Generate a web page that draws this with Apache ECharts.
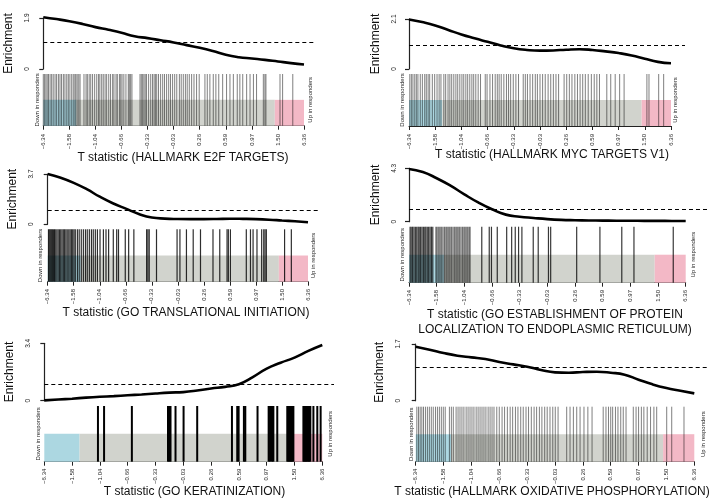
<!DOCTYPE html>
<html>
<head>
<meta charset="utf-8">
<script src="https://cdn.jsdelivr.net/npm/echarts@6/dist/echarts.min.js"></script>
<style>
  html, body { margin: 0; padding: 0; background: #fff; }
  #main { width: 714px; height: 503px; }
</style>
</head>
<body>
<div id="main"></div>
<script>
// tick labels of every barcode axis (T statistic at each decile of the ranking)
const tLabels = ['\u22126.34', '\u22121.58', '\u22121.04', '\u22120.66', '\u22120.33', '\u22120.03', '0.26', '0.59', '0.97', '1.50', '6.36'];

// positions (percent of ranked genes) where the enrichment curves are sampled
const curveX = [0, 5, 10, 15, 20, 25, 30, 35, 40, 45, 50, 55, 60, 65, 70, 75, 80, 85, 90, 95, 100];

// enrichment curves
const e2fCurve = [1.93, 1.86, 1.78, 1.68, 1.56, 1.46, 1.35, 1.22, 1.15, 1.07, 0.99, 0.89, 0.79, 0.67, 0.53, 0.44, 0.39, 0.34, 0.28, 0.22, 0.17];
const mycCurve = [2.08, 1.97, 1.83, 1.64, 1.45, 1.29, 1.14, 0.99, 0.87, 0.80, 0.77, 0.78, 0.81, 0.83, 0.80, 0.74, 0.67, 0.57, 0.43, 0.30, 0.24];
const translCurve = [3.70, 3.42, 3.05, 2.58, 2.03, 1.55, 1.15, 0.76, 0.50, 0.42, 0.39, 0.38, 0.38, 0.39, 0.41, 0.40, 0.38, 0.34, 0.28, 0.22, 0.15];
const erCurve = [4.25, 4.00, 3.50, 2.90, 2.20, 1.55, 1.00, 0.57, 0.40, 0.30, 0.21, 0.15, 0.12, 0.10, 0.09, 0.08, 0.08, 0.07, 0.07, 0.06, 0.06];
const keraCurve = [0.02, 0.07, 0.12, 0.18, 0.23, 0.27, 0.32, 0.37, 0.43, 0.48, 0.51, 0.60, 0.72, 0.82, 0.98, 1.40, 1.90, 2.25, 2.55, 2.95, 3.30];
const oxphosCurve = [1.62, 1.53, 1.43, 1.35, 1.30, 1.25, 1.16, 1.09, 1.02, 0.92, 0.85, 0.84, 0.86, 0.87, 0.84, 0.78, 0.63, 0.49, 0.38, 0.30, 0.22];

// y axis maximum of each enrichment plot
const yMax = [1.9, 2.1, 3.7, 4.3, 3.4, 1.7];

// gene set members: rank position in percent
const e2fGenes = [0, 0.5, 1.0, 1.5, 2.0, 2.6, 3.2, 3.8, 4.5, 5.1, 5.8, 6.4, 7.0, 7.7, 8.3, 9.0, 9.6, 10.2, 10.9, 11.5, 12.1, 12.5, 13.0, 13.6, 14.1, 15.6, 16.4, 16.9, 17.6, 18.2, 18.9, 19.7, 20.5, 21.2, 21.7, 22.4, 23.0, 23.7, 24.3, 25.1, 25.8, 26.6, 27.1, 27.9, 28.4, 29.2, 29.7, 30.2, 30.9, 31.7, 32.6, 33.0, 33.5, 34.0, 37.1, 37.6, 38.1, 38.6, 39.1, 39.6, 40.4, 41.2, 41.9, 42.5, 43.0, 43.5, 44.2, 45.0, 45.8, 46.5, 47.3, 48.1, 48.8, 49.6, 50.4, 51.2, 52.2, 52.9, 53.7, 54.5, 55.2, 56.0, 56.9, 57.8, 58.8, 59.8, 62.0, 62.9, 63.9, 65.2, 66.2, 67.3, 68.8, 70.3, 71.6, 72.9, 74.4, 75.4, 76.5, 78.0, 79.3, 80.6, 81.8, 84.4, 85.0, 85.4, 90.8, 91.8, 95.7];
const mycGenes = [0.3, 0.9, 1.5, 2.2, 2.8, 3.4, 4.3, 5.1, 6.0, 6.6, 7.3, 7.9, 8.9, 9.8, 10.7, 11.5, 12.2, 13.3, 14.0, 14.9, 15.6, 16.3, 17.1, 17.9, 18.6, 19.4, 20.2, 20.9, 21.7, 22.4, 23.2, 24.0, 24.7, 25.5, 26.4, 27.3, 29.1, 29.8, 30.9, 31.9, 32.9, 33.7, 34.4, 35.2, 36.2, 37.2, 38.0, 38.8, 39.8, 40.8, 41.8, 43.6, 44.4, 45.2, 46.2, 47.2, 48.2, 49.0, 50.0, 51.0, 52.0, 53.1, 54.1, 55.1, 56.1, 57.1, 59.2, 60.2, 61.2, 62.2, 63.3, 64.3, 65.3, 66.3, 67.3, 68.4, 69.6, 70.7, 71.7, 72.7, 75.5, 77.0, 78.7, 80.4, 82.1, 90.8, 91.6, 95.3, 97.2];
const translGenes = [0.3, 0.6, 1.0, 1.4, 1.8, 2.2, 2.6, 2.9, 3.5, 4.0, 4.5, 5.0, 5.5, 6.0, 6.5, 7.0, 7.5, 8.1, 8.6, 9.1, 9.6, 10.1, 10.6, 11.4, 12.1, 12.9, 13.7, 14.5, 15.2, 16.0, 16.8, 17.5, 18.3, 19.1, 20.1, 21.4, 22.4, 23.4, 25.2, 26.5, 27.2, 29.8, 31.1, 33.1, 38.0, 38.5, 39.0, 41.8, 49.7, 50.8, 53.3, 55.9, 58.7, 63.5, 66.1, 68.9, 69.4, 70.2, 76.3, 77.9, 78.9, 80.4, 82.2, 83.0, 83.5, 84.0, 91.0, 93.6];
const erGenes = [0.4, 0.8, 1.3, 1.8, 2.3, 2.8, 3.3, 3.7, 4.2, 4.7, 5.2, 5.7, 6.1, 6.6, 7.1, 7.6, 8.1, 8.6, 9.8, 10.5, 11.2, 11.9, 12.7, 13.4, 14.1, 14.8, 15.5, 16.3, 17.0, 17.7, 18.4, 19.2, 19.9, 20.6, 21.3, 22.0, 26.3, 29.0, 29.8, 31.9, 35.3, 37.1, 38.4, 39.6, 40.8, 44.9, 46.7, 50.4, 51.2, 60.6, 69.0, 76.9, 81.3, 95.5];
const keraGenes = [19.3, 21.5, 31.5, 44.5, 45.0, 45.4, 47.2, 50.1, 55.0, 67.5, 69.4, 69.9, 71.8, 72.3, 76.7, 80.7, 81.2, 81.9, 82.4, 83.8, 87.4, 87.8, 88.1, 88.5, 88.8, 89.2, 89.6, 93.2, 93.5, 93.9, 94.2, 94.6, 95.0, 95.3, 95.7, 96.8, 98.2, 99.4];
const oxphosGenes = [0.4, 1.0, 1.6, 2.2, 2.8, 3.5, 4.2, 4.9, 5.6, 6.3, 7.1, 7.8, 8.5, 9.2, 9.9, 10.6, 12.1, 12.8, 13.5, 14.5, 15.2, 15.9, 16.6, 17.3, 18.1, 18.8, 19.5, 20.2, 20.9, 21.7, 22.4, 23.1, 23.8, 24.5, 25.2, 26.0, 26.7, 27.4, 28.1, 29.1, 30.0, 31.0, 31.9, 32.9, 33.9, 34.8, 35.8, 36.7, 37.7, 38.6, 39.6, 40.5, 41.5, 42.5, 43.4, 44.4, 45.3, 46.3, 47.2, 48.2, 49.2, 50.1, 51.1, 54.2, 55.4, 56.6, 57.8, 59.0, 60.4, 61.8, 63.3, 67.3, 68.3, 69.2, 70.0, 70.7, 71.7, 72.6, 73.6, 74.5, 75.5, 78.1, 79.1, 80.0, 81.0, 81.9, 83.1, 84.3, 85.5, 86.5, 90.1, 91.9, 96.3];

// down / neutral / up regions of the ranking (percent)
const bandStart = [0, 12.7, 88.8];
const bandEnd = [12.7, 88.8, 100];

const titles = [
    ['T statistic (HALLMARK E2F TARGETS)'],
    ['T statistic (HALLMARK MYC TARGETS V1)'],
    ['T statistic (GO TRANSLATIONAL INITIATION)'],
    ['T statistic (GO ESTABLISHMENT OF PROTEIN', 'LOCALIZATION TO ENDOPLASMIC RETICULUM)'],
    ['T statistic (GO KERATINIZATION)'],
    ['T statistic (HALLMARK OXIDATIVE PHOSPHORYLATION)']
];
const curves = [e2fCurve, mycCurve, translCurve, erCurve, keraCurve, oxphosCurve];
const genes = [e2fGenes, mycGenes, translGenes, erGenes, keraGenes, oxphosGenes];

// layout of each panel, in pixels
const layout = [
    { left: 43.3, right: 304, axisX: 33, enrTop: 18, enrBot: 69, dashEnd: 316, barTop: 74, barBot: 125.7, tickY: 131, titleX: 183, titleY: 158, downX: 37, upX: 310 },
    { left: 409, right: 671, axisX: 399.3, enrTop: 19, enrBot: 69, dashEnd: 685, barTop: 74, barBot: 126, tickY: 131, titleX: 552, titleY: 155, downX: 402, upX: 675 },
    { left: 47.7, right: 308, axisX: 36.7, enrTop: 174, enrBot: 224.3, dashEnd: 320, barTop: 229.3, barBot: 281.7, tickY: 286, titleX: 186, titleY: 313, downX: 40, upX: 313 },
    { left: 409, right: 685.7, axisX: 399.3, enrTop: 168.3, enrBot: 221.7, dashEnd: 708, barTop: 226.7, barBot: 282.7, tickY: 287, titleX: 555, titleY: 315, downX: 402.7, upX: 693 },
    { left: 44.3, right: 322.3, axisX: 33.3, enrTop: 343.3, enrBot: 400.7, dashEnd: 334, barTop: 406, barBot: 461.7, tickY: 465.7, titleX: 194.5, titleY: 491.7, downX: 38, upX: 330 },
    { left: 415.7, right: 694.3, axisX: 403.3, enrTop: 344, enrBot: 400.7, dashEnd: 707, barTop: 406.7, barBot: 461.7, tickY: 465.7, titleX: 552, titleY: 491.7, downX: 411.7, upX: 703 }
];
const barcodeStyle = [
    { color: 'rgba(0,0,0,0.5)', width: 1 },
    { color: 'rgba(0,0,0,0.5)', width: 1 },
    { color: 'rgba(0,0,0,0.82)', width: 1.2 },
    { color: 'rgba(0,0,0,0.78)', width: 1.2 },
    { color: '#000', width: 2 },
    { color: 'rgba(0,0,0,0.5)', width: 1 }
];
const bandColors = ['#acd7e1', '#d1d3cd', '#f3b8c6'];
const FONT = '"Liberation Sans", Arial, sans-serif';

const grid = [], xAxis = [], yAxis = [], series = [], graphic = [];

layout.forEach((p, i) => {
    const ge = i * 2, gb = i * 2 + 1;
    // enrichment plot
    grid.push({ left: p.left, top: p.enrTop, width: p.dashEnd - p.left, height: p.enrBot - p.enrTop });
    xAxis.push({ gridIndex: ge, type: 'value', min: 0, max: 100 * (p.dashEnd - p.left) / (p.right - p.left), show: false });
    yAxis.push({
        gridIndex: ge, type: 'value', min: 0, max: yMax[i], interval: yMax[i],
        offset: p.left - p.axisX,
        name: 'Enrichment', nameLocation: 'middle', nameRotate: 90, nameGap: 18,
        nameTextStyle: { fontFamily: FONT, fontSize: 12, color: '#111' },
        axisLine: { show: true, lineStyle: { color: '#222', width: 1.2 } },
        axisTick: { show: true, length: 4, lineStyle: { color: '#222', width: 1.2 } },
        axisLabel: { rotate: 90, fontSize: 6.5, margin: 2, color: '#222', fontFamily: FONT },
        splitLine: { show: false }
    });
    series.push({
        type: 'line', xAxisIndex: ge, yAxisIndex: ge,
        data: curveX.map((x, k) => [x, curves[i][k]]),
        smooth: true, showSymbol: false, clip: false,
        lineStyle: { color: '#000', width: 2.6 },
        markLine: {
            silent: true, symbol: 'none', label: { show: false },
            lineStyle: { color: '#000', type: [4, 3], width: 1.2 },
            data: [{ yAxis: 1 }]
        }
    });

    // barcode
    grid.push({ left: p.left, top: p.barTop, width: p.right - p.left, height: p.barBot - p.barTop });
    xAxis.push({
        gridIndex: gb, type: 'value', min: 0, max: 100, interval: 10,
        offset: p.tickY - p.barBot,
        axisLine: { show: true, lineStyle: { color: '#222', width: 1 } },
        axisTick: { show: true, length: 4, lineStyle: { color: '#222' } },
        axisLabel: {
            rotate: 90, fontSize: 6, margin: 3, color: '#222', fontFamily: FONT,
            formatter: v => tLabels[Math.round(v / 10)]
        },
        splitLine: { show: false }
    });
    yAxis.push({ gridIndex: gb, type: 'value', min: 0, max: 1, show: false });
    series.push({
        type: 'custom', xAxisIndex: gb, yAxisIndex: gb, z: 1, silent: true,
        data: bandStart.map((s, k) => [s, bandEnd[k], k]),
        renderItem: (params, api) => {
            const a = api.coord([api.value(0), 0.5]);
            const b = api.coord([api.value(1), 0]);
            return { type: 'rect', shape: { x: a[0], y: a[1], width: b[0] - a[0], height: b[1] - a[1] },
                     style: { fill: bandColors[api.value(2)] } };
        }
    });
    const st = barcodeStyle[i];
    series.push({
        type: 'custom', xAxisIndex: gb, yAxisIndex: gb, z: 2, silent: true,
        data: genes[i].map(g => [g, 1]),
        renderItem: (params, api) => {
            const a = api.coord([api.value(0), 0]);
            const b = api.coord([api.value(0), 1]);
            return { type: 'line', shape: { x1: a[0], y1: a[1], x2: b[0], y2: b[1] },
                     style: { stroke: st.color, lineWidth: st.width } };
        }
    });

    // labels
    const midY = (p.barTop + p.barBot) / 2;
    [['Down in responders', p.downX], ['Up in responders', p.upX]].forEach(([t, x]) => {
        graphic.push({
            type: 'text', x: x, y: midY, rotation: Math.PI / 2,
            style: { text: t, font: '6px ' + FONT, fill: '#222', textAlign: 'center', textVerticalAlign: 'middle', align: 'center', verticalAlign: 'middle' }
        });
    });
    titles[i].forEach((t, k) => {
        graphic.push({
            type: 'text', x: p.titleX, y: p.titleY + k * 15,
            style: { text: t, font: '12px ' + FONT, fill: '#111', textAlign: 'center', textVerticalAlign: 'middle', align: 'center', verticalAlign: 'middle' }
        });
    });
});

const chart = echarts.init(document.getElementById('main'), null, { renderer: 'canvas' });
chart.setOption({
    animation: false,
    backgroundColor: '#fff',
    grid, xAxis, yAxis, series, graphic
});
</script>
</body>
</html>
